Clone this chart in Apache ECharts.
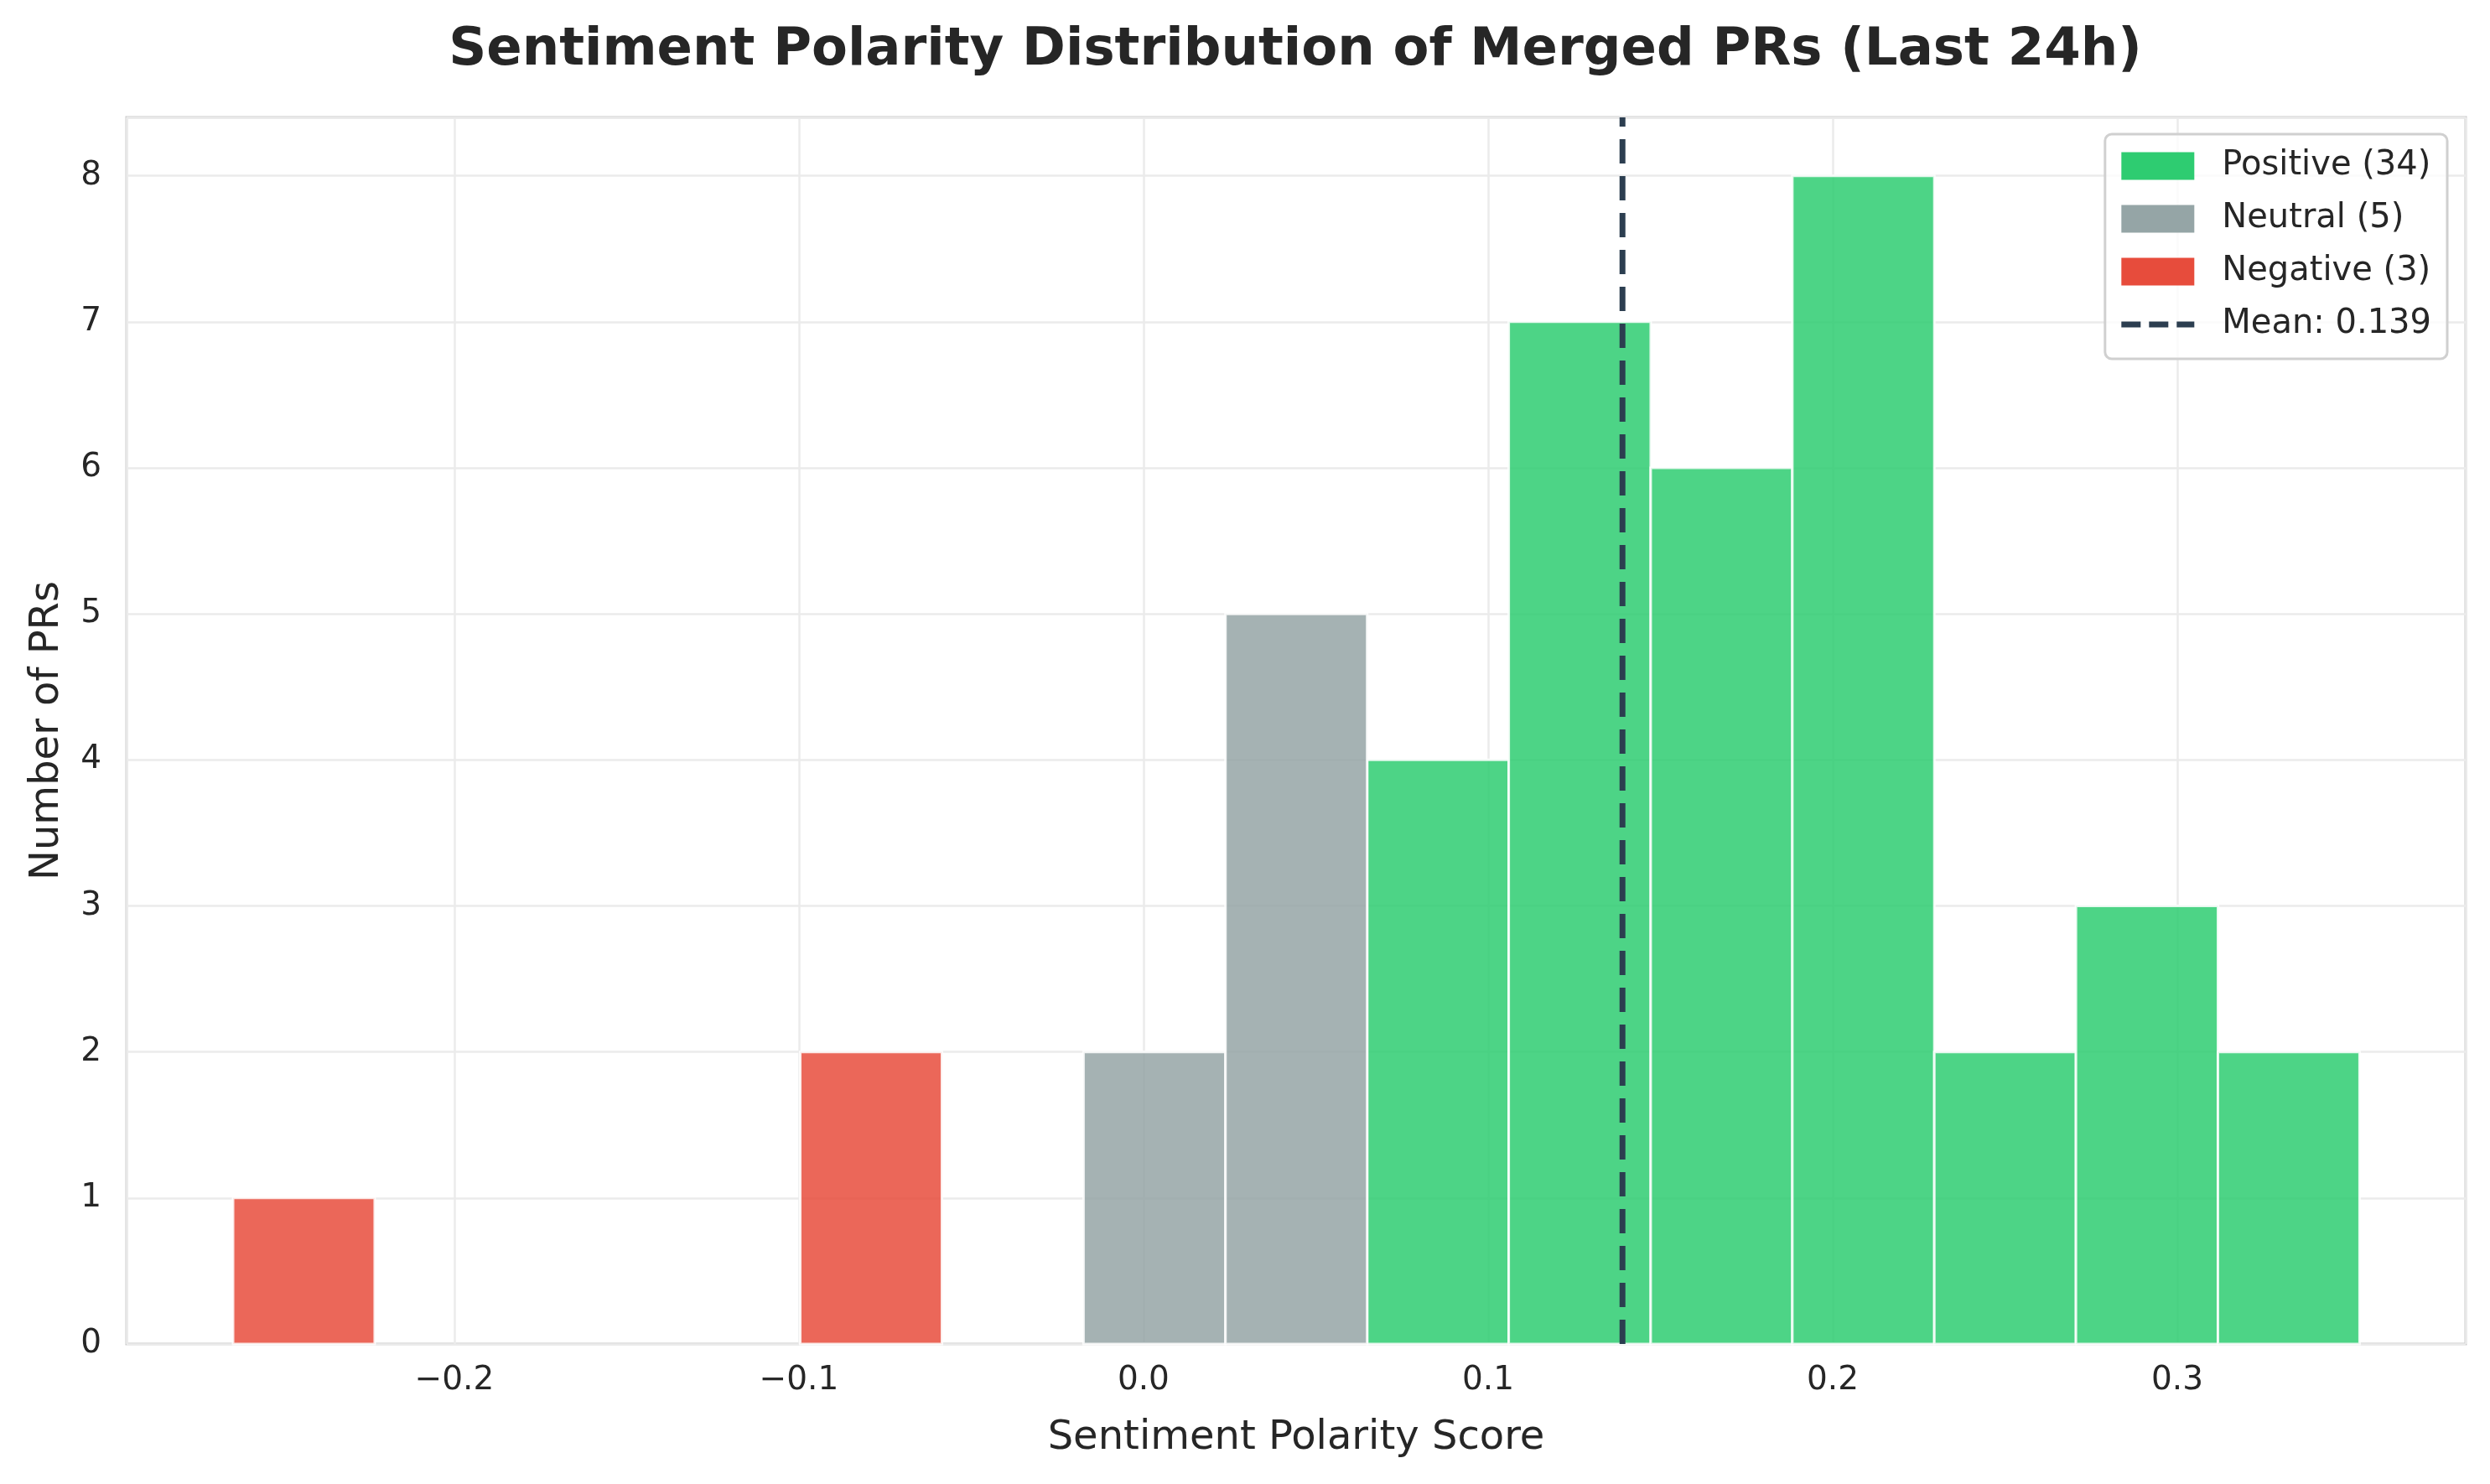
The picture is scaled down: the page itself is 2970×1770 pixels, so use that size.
<!DOCTYPE html>
<html><head><meta charset="utf-8">
<script src="https://cdn.jsdelivr.net/npm/echarts@6/dist/echarts.min.js"></script>
<style>html,body{margin:0;padding:0;background:#fff}#c{width:2970px;height:1770px}</style>
</head><body><div id="c"></div>
<script>
// Histogram bin edges (15 bins)
const binEdges = [-0.2642, -0.2231, -0.1819, -0.1408, -0.0996, -0.0585, -0.0174, 0.0238,
                  0.0649, 0.1060, 0.1472, 0.1883, 0.2295, 0.2706, 0.3118, 0.3529];
const positiveCounts = [0, 0, 0, 0, 0, 0, 0, 0, 4, 7, 6, 8, 2, 3, 2];
const neutralCounts  = [0, 0, 0, 0, 0, 0, 2, 5, 0, 0, 0, 0, 0, 0, 0];
const negativeCounts = [1, 0, 0, 0, 2, 0, 0, 0, 0, 0, 0, 0, 0, 0, 0];
const seriesNames = ['Positive (34)', 'Neutral (5)', 'Negative (3)'];
const meanScore = 0.139;
const meanName = 'Mean: 0.139';
const xLimits = [-0.2951, 0.3837];
const yLimits = [0, 8.4];
const titleText = 'Sentiment Polarity Distribution of Merged PRs (Last 24h)';
const xLabel = 'Sentiment Polarity Score';
const yLabel = 'Number of PRs';

const colors = {pos: '#2ecc71', neu: '#95a5a6', neg: '#e74c3c', mean: '#2c3e50'};
const FONT = 'DejaVu Sans';
const TXT = '#262626';

function toBins(counts) {
  const out = [];
  counts.forEach((c, i) => { if (c > 0) out.push([binEdges[i], binEdges[i + 1], c]); });
  return out;
}
function barRenderer(fill) {
  return function (params, api) {
    const p0 = api.coord([api.value(0), api.value(2)]);
    const p1 = api.coord([api.value(1), 0]);
    return {
      type: 'rect',
      shape: {x: p0[0], y: p0[1], width: p1[0] - p0[0], height: p1[1] - p0[1]},
      style: {fill: fill, stroke: '#ffffff', lineWidth: 3, opacity: 0.85}
    };
  };
}
function histSeries(name, counts, color) {
  return {
    name: name, type: 'custom', renderItem: barRenderer(color),
    itemStyle: {color: color},
    encode: {x: [0, 1], y: 2},
    data: toBins(counts), z: 2
  };
}
function fmt(v) {
  return v.toFixed(1).replace('-', '\u2212');
}

const chart = echarts.init(document.getElementById('c'), null, {renderer: 'canvas'});
chart.setOption({
  backgroundColor: '#ffffff',
  animation: false,
  title: {
    text: titleText, left: 1540, top: 24, textAlign: 'center',
    textStyle: {fontFamily: FONT, fontSize: 62.5, fontWeight: 'bold', color: TXT}
  },
  grid: {
    left: 151, right: 29, top: 140, bottom: 167,
    show: true, borderColor: '#cccccc', borderWidth: 3, backgroundColor: 'transparent'
  },
  xAxis: {
    type: 'value', min: xLimits[0], max: xLimits[1],
    name: xLabel, nameLocation: 'middle', nameGap: 89,
    nameTextStyle: {fontFamily: FONT, fontSize: 48, color: TXT},
    axisLine: {show: false}, axisTick: {show: false},
    axisLabel: {fontFamily: FONT, fontSize: 39, color: TXT, margin: 24,
      showMinLabel: false, showMaxLabel: false, formatter: fmt},
    splitLine: {show: true, lineStyle: {color: '#ebebeb', width: 2.5}}
  },
  yAxis: {
    type: 'value', min: yLimits[0], max: yLimits[1], interval: 1,
    name: yLabel, nameLocation: 'middle', nameGap: 70, nameRotate: 90,
    nameTextStyle: {fontFamily: FONT, fontSize: 48, color: TXT},
    axisLine: {show: false}, axisTick: {show: false},
    axisLabel: {fontFamily: FONT, fontSize: 39, color: TXT, margin: 30, showMaxLabel: false},
    splitLine: {show: true, lineStyle: {color: '#ebebeb', width: 2.5}}
  },
  legend: {
    orient: 'vertical', right: 51, top: 160,
    padding: [18, 19, 21, 16],
    itemWidth: 87, itemHeight: 33, itemGap: 23,
    backgroundColor: 'rgba(255,255,255,0.8)',
    borderColor: '#d0d0d0', borderWidth: 3, borderRadius: 8,
    textStyle: {fontFamily: FONT, fontSize: 40, color: TXT, lineHeight: 33, padding: [0, 0, 0, 28]},
    data: [
      {name: seriesNames[0], icon: 'rect', itemStyle: {color: colors.pos, opacity: 1}},
      {name: seriesNames[1], icon: 'rect', itemStyle: {color: colors.neu, opacity: 1}},
      {name: seriesNames[2], icon: 'rect', itemStyle: {color: colors.neg, opacity: 1}},
      {name: meanName,
       itemStyle: {color: 'rgba(0,0,0,0)', opacity: 0, borderWidth: 0},
       lineStyle: {color: colors.mean, width: 7, type: [23, 10], cap: 'butt'}}
    ]
  },
  series: [
    histSeries(seriesNames[0], positiveCounts, colors.pos),
    histSeries(seriesNames[1], neutralCounts, colors.neu),
    histSeries(seriesNames[2], negativeCounts, colors.neg),
    {
      name: meanName, type: 'line', symbol: 'none', z: 5, silent: true,
      lineStyle: {color: colors.mean, width: 7, type: [29, 15], cap: 'butt'},
      itemStyle: {color: colors.mean},
      data: [[meanScore, yLimits[0]], [meanScore, yLimits[1]]]
    }
  ]
});
</script>
</body></html>
